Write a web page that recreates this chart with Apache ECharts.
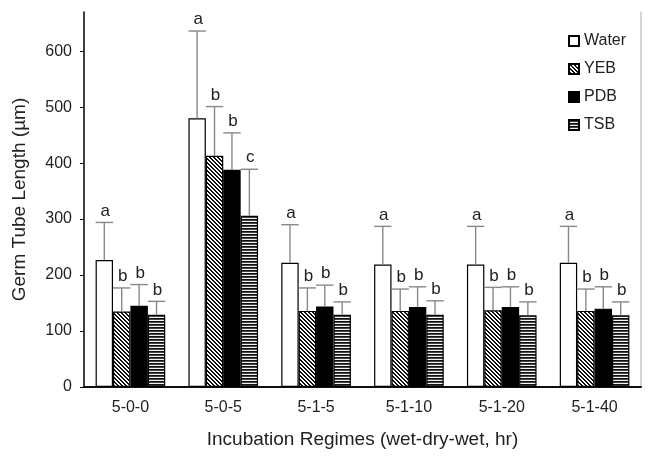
<!DOCTYPE html>
<html>
<head>
<meta charset="utf-8">
<script src="https://cdn.jsdelivr.net/npm/echarts@6/dist/echarts.min.js"></script>
<style>
html,body{margin:0;padding:0;background:#fff;}
#chart{width:654px;height:458px;}
</style>
</head>
<body>
<div id="chart"></div>
<script>
const categories = ['5-0-0','5-0-5','5-1-5','5-1-10','5-1-20','5-1-40'];
const seriesNames = ['Water','YEB','PDB','TSB'];
const water = [227, 480, 222, 219, 219, 222];
const yeb   = [135, 413, 136, 136, 137, 136];
const pdb   = [145, 388, 144, 143, 143, 140];
const tsb   = [129, 306, 129, 129, 128, 128];
const waterSd = [67, 156, 68, 68, 68, 65];
const yebSd   = [42, 88, 41, 39, 41, 39];
const pdbSd   = [38, 66, 38, 36, 36, 39];
const tsbSd   = [24, 83, 23, 25, 24, 24];
const waterLetters = ['a','a','a','a','a','a'];
const yebLetters   = ['b','b','b','b','b','b'];
const pdbLetters   = ['b','b','b','b','b','b'];
const tsbLetters   = ['b','c','b','b','b','b'];
const yTicks = [0,100,200,300,400,500,600];

const values = [water, yeb, pdb, tsb];
const sds = [waterSd, yebSd, pdbSd, tsbSd];
const letters = [waterLetters, yebLetters, pdbLetters, tsbLetters];

function diagPattern(){
  const c = document.createElement('canvas'); c.width = 4; c.height = 4;
  const ctx = c.getContext('2d');
  ctx.fillStyle = '#fff'; ctx.fillRect(0,0,4,4);
  ctx.fillStyle = '#111';
  for (let y = 0; y < 4; y++) {
    ctx.fillRect(y % 4, y, 1, 1);
    ctx.fillRect((y + 1) % 4, y, 1, 1);
  }
  return c;
}
function horizPattern(){
  const c = document.createElement('canvas'); c.width = 4; c.height = 3;
  const ctx = c.getContext('2d');
  ctx.fillStyle = '#111'; ctx.fillRect(0,0,4,1);
  ctx.fillStyle = '#444'; ctx.fillRect(0,1,4,1);
  ctx.fillStyle = '#f2f2f2'; ctx.fillRect(0,2,4,1);
  return c;
}
const fills = [
  '#ffffff',
  {image: diagPattern(), repeat: 'repeat'},
  '#000000',
  {image: horizPattern(), repeat: 'repeat'}
];

const errData = [];
const errMeta = [];
for (let s = 0; s < 4; s++) {
  for (let i = 0; i < categories.length; i++) {
    errData.push([i, values[s][i], values[s][i] + sds[s][i], s]);
    errMeta.push(letters[s][i]);
  }
}

const chart = echarts.init(document.getElementById('chart'), null, {renderer: 'canvas'});
const barSeries = seriesNames.map((n, s) => ({
  name: n,
  type: 'bar',
  data: values[s],
  barGap: '0%',
  barCategoryGap: '25%',
  itemStyle: {color: fills[s], borderColor: '#000', borderWidth: 1.2},
  emphasis: {disabled: true},
  z: 2
}));

const errSeries = {
  type: 'custom',
  data: errData,
  z: 5,
  silent: true,
  encode: {x: 0, y: [1, 2]},
  renderItem: function(params, api){
    const ci = api.value(0), v = api.value(1), top = api.value(2), si = api.value(3);
    const band = api.size([1, 0])[0];
    const bw = band * 0.75 / 4;
    const base = api.coord([ci, v]);
    const t = api.coord([ci, top]);
    const x = base[0] + (si - 1.5) * bw;
    const st = {stroke: '#888', lineWidth: 1.4};
    return {
      type: 'group',
      children: [
        {type: 'line', shape: {x1: x, y1: base[1], x2: x, y2: t[1]}, style: st},
        {type: 'line', shape: {x1: x - bw/2, y1: t[1], x2: x + bw/2, y2: t[1]}, style: st},
        {type: 'text', x: x + 1, y: t[1] - 3, style: {text: errMeta[params.dataIndex], fill: '#222', font: '17px "Liberation Sans", Arial, sans-serif', textAlign: 'center', textVerticalAlign: 'bottom'}}
      ]
    };
  }
};

chart.setOption({
  animation: false,
  backgroundColor: '#fff',
  textStyle: {fontFamily: '"Liberation Sans", Arial, sans-serif'},
  grid: {left: 84, right: 13, top: 12, bottom: 71},
  legend: {
    data: seriesNames,
    orient: 'vertical',
    left: 563, top: 28,
    itemWidth: 10, itemHeight: 10,
    itemGap: 12,
    icon: 'rect',
    textStyle: {fontSize: 16, color: '#222', fontFamily: '"Liberation Sans", Arial, sans-serif'}
  },
  xAxis: [{
    type: 'category',
    data: categories,
    axisLine: {lineStyle: {color: '#000', width: 1.5}},
    axisTick: {show: false},
    axisLabel: {fontSize: 16, color: '#222', margin: 13},
    name: 'Incubation Regimes (wet-dry-wet, hr)',
    nameLocation: 'middle',
    nameGap: 43,
    nameTextStyle: {fontSize: 19, color: '#222'}
  }, {
    type: 'category',
    data: categories,
    position: 'top',
    axisLine: {show: true, lineStyle: {color: '#000', width: 1.5}},
    axisTick: {show: false},
    axisLabel: {show: false}
  }],
  yAxis: [{
    type: 'value',
    min: 0, max: 670,
    interval: 100,
    axisLine: {show: true, lineStyle: {color: '#000', width: 1.5}},
    axisTick: {show: true, inside: false, length: 4, lineStyle: {color: '#000'}, customValues: yTicks},
    axisLabel: {fontSize: 16, color: '#222', margin: 12, customValues: yTicks},
    splitLine: {show: false},
    name: 'Germ Tube Length (µm)',
    nameLocation: 'middle',
    nameGap: 55,
    nameTextStyle: {fontSize: 19, color: '#222'}
  }, {
    type: 'value',
    min: 0, max: 670,
    position: 'right',
    axisLine: {show: true, lineStyle: {color: '#c8c8c8', width: 1.5}},
    axisTick: {show: false},
    axisLabel: {show: false},
    splitLine: {show: false}
  }],
  series: barSeries.concat([errSeries])
});
</script>
</body>
</html>
